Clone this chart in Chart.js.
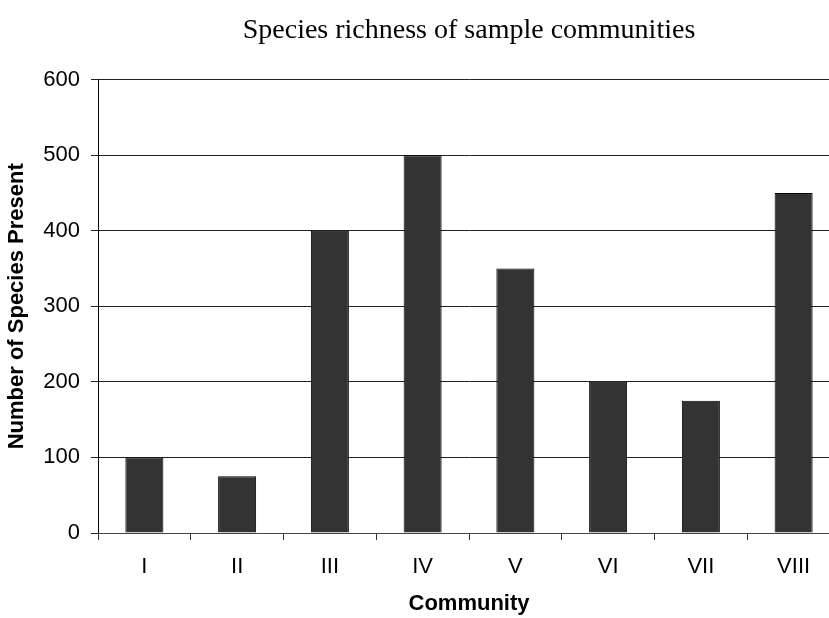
<!DOCTYPE html>
<html>
<head>
<meta charset="utf-8">
<title>Species richness of sample communities</title>
<style>
  html, body { margin: 0; padding: 0; background: #fff; width: 829px; height: 618px; overflow: hidden; }
  #wrap { position: absolute; left: 0; top: 0; width: 940px; height: 618px; }
</style>
<script src="https://cdn.jsdelivr.net/npm/chart.js@4/dist/chart.umd.min.js"></script>
</head>
<body>
<div id="wrap"><canvas id="chart" width="940" height="618"></canvas></div>
<script>
// Community labels (roman numerals) and the species count for each
const communities = ['I', 'II', 'III', 'IV', 'V', 'VI', 'VII', 'VIII'];
const speciesCounts = [100, 75, 400, 500, 350, 200, 175, 450];
const yTickValues = [0, 100, 200, 300, 400, 500, 600];

const sansFont = "Arial, 'Liberation Sans', Helvetica, sans-serif";
const serifFont = "'Times New Roman', 'Liberation Serif', Times, serif";

new Chart(document.getElementById('chart'), {
  type: 'bar',
  data: {
    labels: communities,
    datasets: [{
      data: speciesCounts,
      backgroundColor: '#333333',
      borderColor: '#000000',
      borderWidth: 1,
      categoryPercentage: 1,
      barPercentage: 0.41
    }]
  },
  options: {
    responsive: false,
    animation: false,
    devicePixelRatio: 1,
    layout: { padding: { left: 0, right: 100, top: 0, bottom: 0 } },
    plugins: {
      legend: { display: false },
      tooltip: { enabled: false },
      title: {
        display: true,
        fullSize: false,   // centre the title over the plot area
        text: 'Species richness of sample communities',
        color: '#000',
        font: { family: serifFont, size: 28, weight: 'normal', lineHeight: 1.2 },
        padding: { top: 14, bottom: 32 }
      }
    },
    scales: {
      x: {
        offset: true,
        grid: {
          display: true,
          offset: true,
          drawOnChartArea: false,
          drawTicks: true,
          tickLength: 7,
          color: '#333',
          tickColor: '#333'
        },
        border: { display: true, color: '#444', width: 1 },
        ticks: {
          color: '#000',
          font: { family: sansFont, size: 22 },
          padding: 14,
          maxRotation: 0
        },
        title: {
          display: true,
          text: 'Community',
          color: '#000',
          font: { family: sansFont, size: 22, weight: 'bold' },
          padding: { top: 0, bottom: 1 }
        },
        afterFit(scale) { scale.height = 85; }
      },
      y: {
        min: 0,
        max: 600,
        afterBuildTicks(scale) { scale.ticks = yTickValues.map(v => ({ value: v })); },
        grid: {
          display: true,
          drawTicks: true,
          tickLength: 7,
          color: '#222',
          tickColor: '#222',
          lineWidth: 1
        },
        border: { display: true, color: '#000', width: 1 },
        ticks: {
          color: '#000',
          font: { family: sansFont, size: 22 },
          padding: 11
        },
        title: {
          display: true,
          text: 'Number of Species Present',
          color: '#000',
          font: { family: sansFont, size: 22, weight: 'bold' },
          padding: { top: 4, bottom: 0 }
        },
        afterFit(scale) { scale.width = 98; }
      }
    }
  }
});
</script>
</body>
</html>
